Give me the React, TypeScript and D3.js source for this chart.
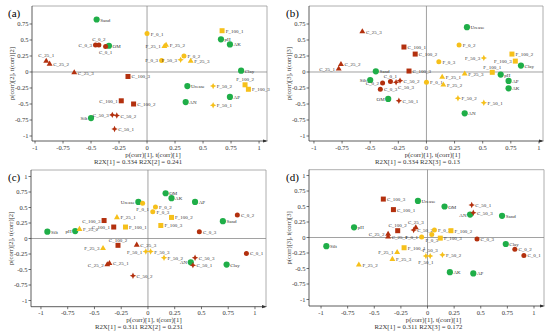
import React from "react";
import * as d3 from "d3";

// point names, same order for every panel
const names = [
  "Sand", "OM", "pH", "AK", "Clay", "Urease", "AN", "AP", "Silt",
  "C_0_1", "C_0_2", "C_0_3", "C_25_1", "C_25_2", "C_25_3",
  "C_50_1", "C_50_2", "C_50_3", "C_100_1", "C_100_2", "C_100_3",
  "F_0_1", "F_0_2", "F_0_3", "F_25_1", "F_25_2", "F_25_3",
  "F_50_1", "F_50_2", "F_50_3", "F_100_1", "F_100_2", "F_100_3",
];
const soilVars = ["Sand", "OM", "pH", "AK", "Clay", "Urease", "AN", "AP", "Silt"];

// (a) components 1 vs 2
const xA = [-0.45, -0.34, 0.66, 0.74, 0.84, 0.36, 0.345, 0.74, -0.5,
  -0.37, -0.43, -0.46, -0.9, -0.87, -0.65, -0.29, -0.27, -0.31, -0.23, -0.12, -0.17,
  0.0, 0.33, 0.13, 0.155, 0.17, 0.39, 0.59, 0.59, 0.3, 0.67, 0.875, 0.905];
const yA = [0.82, 0.41, 0.51, 0.43, 0.02, -0.22, -0.47, -0.39, -0.72,
  0.4, 0.42, 0.42, 0.17, 0.125, -0.01, -0.89, -0.68, -0.67, -0.45, -0.5, -0.07,
  0.6, 0.25, 0.18, 0.4, 0.42, 0.17, -0.52, -0.22, 0.19, 0.645, -0.2, -0.27];

// (b) components 1 vs 3
const xB = [-0.45, -0.34, 0.66, 0.73, 0.84, 0.36, 0.34, 0.73, -0.5,
  -0.32, -0.39, -0.41, -0.78, -0.76, -0.57, -0.245, -0.235, -0.27, -0.2, -0.1, -0.155,
  0.0, 0.29, 0.11, 0.14, 0.15, 0.34, 0.51, 0.28, 0.51, 0.585, 0.76, 0.79];
const yB = [0.01, -0.42, -0.04, -0.255, 0.1, 0.7, -0.645, -0.14, -0.125,
  -0.15, -0.17, -0.27, 0.05, 0.12, 0.63, -0.45, -0.135, -0.16, 0.39, 0.28, 0.015,
  -0.16, 0.42, 0.16, -0.08, -0.2, -0.03, -0.48, -0.41, 0.22, -0.005, 0.28, 0.17];

// (c) components 1 vs 2
const xC = [0.7, 0.165, -0.68, 0.22, 0.735, -0.09, 0.4, 0.44, -0.94,
  0.92, 0.835, 0.48, -0.36, -0.38, -0.105, 0.42, -0.14, 0.44, -0.32, -0.28, -0.41,
  -0.05, 0.07, 0.045, -0.29, -0.64, -0.42, -0.02, 0.15, 0.025, -0.21, 0.22, 0.12];
const yC = [0.28, 0.73, 0.12, 0.65, -0.42, 0.59, -0.385, 0.59, 0.11,
  -0.24, 0.38, 0.11, -0.4, -0.42, -0.105, -0.43, -0.6, -0.31, 0.185, -0.11, 0.29,
  0.57, 0.51, 0.43, 0.34, 0.15, -0.16, -0.21, -0.31, -0.21, 0.185, 0.34, 0.21];

// (d) components 1 vs 3
const xD = [0.7, 0.16, -0.69, 0.21, 0.735, -0.09, 0.4, 0.43, -0.95,
  0.905, 0.82, 0.465, -0.37, -0.37, -0.11, 0.415, -0.13, 0.43, -0.32, -0.28, -0.415,
  -0.055, 0.065, 0.04, -0.285, -0.645, -0.33, -0.015, 0.14, 0.025, -0.22, 0.22, 0.12];
const yD = [0.35, 0.5, 0.165, -0.56, -0.105, 0.59, 0.37, -0.58, -0.14,
  -0.29, -0.19, -0.025, 0.01, 0.055, 0.16, 0.525, 0.12, 0.4, 0.45, 0.11, 0.62,
  0.01, 0.12, 0.05, -0.24, -0.44, -0.35, -0.3, -0.28, -0.3, -0.165, 0.11, -0.01];

const ticksTop = [-1, -0.75, -0.5, -0.25, 0, 0.25, 0.5, 0.75];
const ticksFull = [-1, -0.75, -0.5, -0.25, 0, 0.25, 0.5, 0.75, 1];

const GREEN = "#1fae48";
const RED = "#b3300e";
const YELLOW = "#f6c01a";

// label side overrides (default: right)
const sideA: Record<string, string> = { C_0_3: "left", C_0_2: "above", C_0_1: "below", C_25_1: "above", F_25_1: "left", F_0_3: "left", F_50_3: "left", F_100_2: "above", C_100_1: "left", C_50_3: "left", Silt: "left" };
const sideB: Record<string, string> = { C_25_1: "left", Silt: "left", C_0_2: "left", C_0_1: "above", C_50_3: "belowright", OM: "left", F_50_3: "left", F_100_3: "left", F_100_1: "above" };
const sideC: Record<string, string> = { Urease: "left", F_0_1: "below", C_100_3: "left", pH: "left", C_100_1: "left", C_100_2: "above", F_25_3: "left", C_25_2: "left", F_50_1: "left", AN: "left" };
const sideD: Record<string, string> = { C_100_2: "above", C_25_2: "left", F_25_1: "left", F_0_1: "left", F_0_3: "below", AN: "left", F_50_3: "above", F_50_1: "below", C_25_3: "above" };

const panels = [
  { tag: "(a)", xs: xA, ys: yA, side: sideA, box: [32, 267, 6, 141], xDom: [-1.027, 1.071], yDom: [-1.078, 1.031], yt: ticksTop, yTitle: "p(corr)[2], t(corr)[2]", r2: "R2X[1] = 0.334 R2X[2] = 0.241" },
  { tag: "(b)", xs: xB, ys: yB, side: sideB, box: [309, 543, 6, 141], xDom: [-1.044, 1.036], yDom: [-1.078, 1.031], yt: ticksTop, yTitle: "p(corr)[3], t(corr)[3]", r2: "R2X[1] = 0.334 R2X[3] = 0.13" },
  { tag: "(c)", xs: xC, ys: yC, side: sideC, box: [31, 266, 170, 306.7], xDom: [-1.093, 1.103], yDom: [-1.1, 1.105], yt: ticksFull, yTitle: "p(corr)[2], t(corr)[2]", r2: "R2X[1] = 0.311 R2X[2] = 0.231" },
  { tag: "(d)", xs: xD, ys: yD, side: sideD, box: [309, 544, 169.7, 306], xDom: [-1.113, 1.094], yDom: [-1.105, 1.094], yt: ticksFull, yTitle: "p(corr)[3], t(corr)[3]", r2: "R2X[1] = 0.311 R2X[3] = 0.172" },
];

const starPath = (r: number) => {
  const pts: [number, number][] = [];
  for (let i = 0; i < 8; i++) {
    const a = (Math.PI / 4) * i - Math.PI / 2;
    const rr = i % 2 === 0 ? r : r * 0.45;
    pts.push([rr * Math.cos(a), rr * Math.sin(a)]);
  }
  return d3.line()(pts) + "Z";
};

function Marker({ name, x, y }: { name: string; x: number; y: number }) {
  if (soilVars.includes(name)) return <circle cx={x} cy={y} r={3.1} fill={GREEN} />;
  const color = name.startsWith("C") ? RED : YELLOW;
  const level = name.split("_")[1];
  const t = `translate(${x},${y})`;
  if (level === "0") return <circle cx={x} cy={y} r={2.5} fill={color} />;
  if (level === "25") return <path transform={t} d={d3.symbol(d3.symbolTriangle, 15)()!} fill={color} />;
  if (level === "50") return <path transform={t} d={starPath(3.2)} fill={color} />;
  return <rect x={x - 2.5} y={y - 2.5} width={5} height={5} fill={color} />;
}

function Panel({ p }: { p: (typeof panels)[number] }) {
  const [x0, x1, y0, y1] = p.box;
  const sx = d3.scaleLinear().domain(p.xDom).range([x0, x1]);
  const sy = d3.scaleLinear().domain(p.yDom).range([y1, y0]);
  const font = "'Liberation Serif', 'Times New Roman', serif";
  const tagX = x0 < 100 ? 8 : 286;
  return (
    <g fontFamily={font}>
      <text x={tagX} y={y0 + 11} fontSize={11}>{p.tag}</text>
      {/* frame */}
      <line x1={x0} x2={x1} y1={y0} y2={y0} stroke="#9a9a9a" strokeWidth={0.8} />
      <line x1={x1} x2={x1} y1={y0} y2={y1} stroke="#9a9a9a" strokeWidth={0.8} />
      {/* zero lines */}
      <line x1={x0} x2={x1} y1={sy(0)} y2={sy(0)} stroke="#8a8a8a" strokeWidth={0.8} />
      <line x1={sx(0)} x2={sx(0)} y1={y0} y2={y1} stroke="#8a8a8a" strokeWidth={0.8} />
      {/* axes */}
      <line x1={x0} x2={x0} y1={y0} y2={y1} stroke="#333" strokeWidth={0.8} />
      <line x1={x0} x2={x1 - 1} y1={y1} y2={y1} stroke="#333" strokeWidth={0.8} />
      <path d={`M${x1 + 1},${y1} l-5,-1.6 l0,3.2 Z`} fill="#333" />
      {p.yt.map((v) => (
        <g key={"y" + v}>
          <line x1={x0 - 2.5} x2={x0} y1={sy(v)} y2={sy(v)} stroke="#333" strokeWidth={0.7} />
          <text x={x0 - 3.5} y={sy(v) + 2.3} fontSize={6.5} textAnchor="end" fill="#333">{String(v)}</text>
        </g>
      ))}
      {ticksFull.map((v) => (
        <g key={"x" + v}>
          <line x1={sx(v)} x2={sx(v)} y1={y1} y2={y1 + 2.5} stroke="#333" strokeWidth={0.7} />
          <text x={sx(v)} y={y1 + 8.5} fontSize={6.5} textAnchor="middle" fill="#333">{String(v)}</text>
        </g>
      ))}
      <text transform={`translate(${x0 - 18},${(y0 + y1) / 2}) rotate(-90)`} fontSize={6.5} textAnchor="middle" fill="#333">{p.yTitle}</text>
      <text x={sx(0) + 6} y={y1 + 15.5} fontSize={6.8} textAnchor="middle" fill="#333">p(corr)[1], t(corr)[1]</text>
      <text x={sx(0) - 9} y={y1 + 22.5} fontSize={6.8} textAnchor="middle" fill="#333">{p.r2}</text>
      {names.map((n, i) => {
        const px = sx(p.xs[i]);
        const py = sy(p.ys[i]);
        const side = p.side[n] || "right";
        let lx = px + 3.6, ly = py + 2, anchor = "start";
        if (side === "left") { lx = px - 3.6; anchor = "end"; }
        if (side === "above") { lx = px; ly = py - 3.8; anchor = "middle"; }
        if (side === "below") { lx = px; ly = py + 7.5; anchor = "middle"; }
        if (side === "belowright") { lx = px + 2; ly = py + 7; }
        return (
          <g key={n}>
            <Marker name={n} x={px} y={py} />
            <text x={lx} y={ly} fontSize={5} textAnchor={anchor} fill="#333">{n}</text>
          </g>
        );
      })}
    </g>
  );
}

export default function App() {
  return (
    <div style={{ position: "fixed", left: 0, top: 0 }}>
      <svg width={550} height={332} style={{ display: "block", background: "#fff" }}>
        {panels.map((p) => <Panel key={p.tag} p={p} />)}
      </svg>
    </div>
  );
}
